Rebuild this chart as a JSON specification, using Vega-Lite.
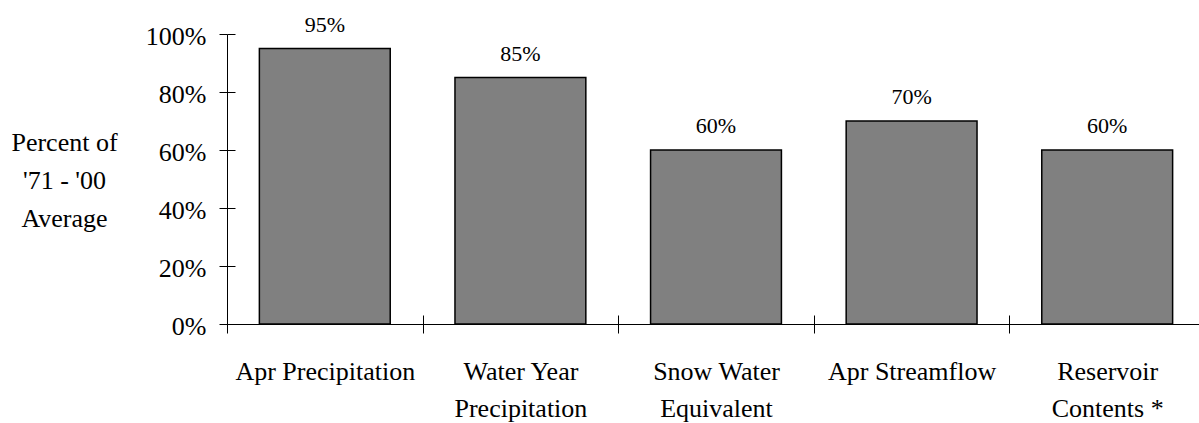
{
  "$schema": "https://vega.github.io/schema/vega-lite/v6.json",
  "autosize": "none",
  "padding": {"left": 227, "top": 34, "right": 0, "bottom": 99},
  "width": 978,
  "height": 290,
  "background": "white",
  "config": {
    "view": {"stroke": null},
    "font": "Liberation Serif",
    "text": {"font": "Liberation Serif"},
    "axis": {"domainColor": "#000000", "tickColor": "#000000", "labelColor": "#000000", "titleColor": "#000000", "gridColor": "#000000", "gridOpacity": 1, "gridWidth": 1, "domainWidth": 1, "tickWidth": 1, "labelFont": "Liberation Serif", "titleFont": "Liberation Serif"}
  },
  "data": {
    "values": [
      {"category": "Apr Precipitation", "percent": 0.95},
      {"category": "Water Year Precipitation", "percent": 0.85},
      {"category": "Snow Water Equivalent", "percent": 0.60},
      {"category": "Apr Streamflow", "percent": 0.70},
      {"category": "Reservoir Contents *", "percent": 0.60}
    ]
  },
  "encoding": {
    "x": {
      "field": "category", "type": "nominal", "sort": null,
      "scale": {"paddingInner": 0.331, "paddingOuter": 0.1655},
      "axis": {
        "orient": "bottom", "title": null, "labelAngle": 0,
        "tickSize": 9, "tickOffset": -97.8, "labelOffset": 97.8,
        "grid": true, "gridDash": [9, 281], "gridDashOffset": 9,
        "labelFontSize": 26, "labelLineHeight": 37, "labelBaseline": "top", "labelPadding": 25,
        "labelLimit": 300,
        "labelExpr": "datum.value == 'Water Year Precipitation' ? ['Water Year', 'Precipitation'] : datum.value == 'Snow Water Equivalent' ? ['Snow Water', 'Equivalent'] : datum.value == 'Reservoir Contents *' ? ['Reservoir', 'Contents *'] : datum.value"
      }
    },
    "y": {
      "field": "percent", "type": "quantitative",
      "scale": {"domain": [0, 1], "nice": false},
      "axis": {
        "orient": "left", "values": [0, 0.2, 0.4, 0.6, 0.8, 1], "format": ".0%",
        "tickSize": 8, "grid": true, "gridDash": [8, 2000],
        "labelFontSize": 26, "labelPadding": 13, "labelOffset": 2,
        "title": ["Percent of", "'71 - '00", "Average"],
        "titleAngle": 0, "titleFontSize": 26, "titleFontWeight": "normal",
        "titleAlign": "center", "titleBaseline": "alphabetic", "titleLineHeight": 38,
        "titleX": -163, "titleY": 116
      }
    }
  },
  "layer": [
    {
      "mark": {"type": "bar", "fill": "#808080", "stroke": "#000000", "strokeWidth": 1.5}
    },
    {
      "mark": {"type": "text", "font": "Liberation Serif", "fontSize": 22, "baseline": "alphabetic", "dy": -17, "color": "#000000"},
      "encoding": {
        "text": {"field": "percent", "type": "quantitative", "format": ".0%"}
      }
    }
  ]
}
